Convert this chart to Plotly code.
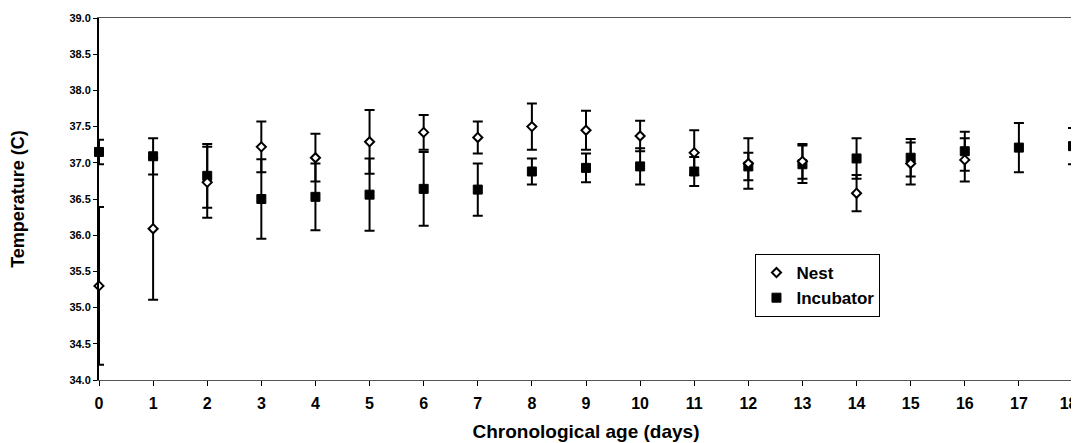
import plotly.graph_objects as go

days_nest = list(range(0, 17))
nest_mean = [35.30, 36.09, 36.73, 37.22, 37.07, 37.29, 37.42, 37.35, 37.50, 37.45, 37.37, 37.14, 36.99, 37.02, 36.58, 36.99, 37.04]
nest_err = [1.09, 0.98, 0.49, 0.35, 0.33, 0.44, 0.24, 0.22, 0.32, 0.27, 0.21, 0.31, 0.35, 0.24, 0.25, 0.29, 0.30]

days_inc = list(range(0, 19))
inc_mean = [37.15, 37.09, 36.82, 36.50, 36.53, 36.56, 36.64, 36.63, 36.88, 36.93, 36.95, 36.88, 36.95, 36.98, 37.06, 37.07, 37.16, 37.21, 37.23]
inc_err = [0.17, 0.25, 0.44, 0.55, 0.46, 0.50, 0.51, 0.36, 0.18, 0.20, 0.25, 0.20, 0.19, 0.26, 0.28, 0.26, 0.27, 0.34, 0.25]

x_ticks = list(range(0, 19))
y_ticks = [34.0 + 0.5 * i for i in range(11)]

# last label padded with non-breaking spaces so it sits at the window edge like the reference
x_ticktext = [str(v) for v in x_ticks]
x_ticktext[-1] = x_ticktext[-1] + "\u00a0\u00a0"

fig = go.Figure()
fig.add_trace(go.Scatter(
    x=days_inc, y=inc_mean, mode="markers", name="Incubator", legendrank=2,
    marker=dict(symbol="square", size=9, color="black", line=dict(color="black", width=1)),
    error_y=dict(type="data", array=inc_err, color="black", thickness=2, width=5),
    cliponaxis=False,
))
fig.add_trace(go.Scatter(
    x=days_nest, y=nest_mean, mode="markers", name="Nest", legendrank=1,
    marker=dict(symbol="diamond", size=7, color="white", line=dict(color="black", width=2)),
    error_y=dict(type="data", array=nest_err, color="black", thickness=2, width=5),
    cliponaxis=False,
))

# the page body has an 8px margin, so margins are reduced by 8 on left/top
fig.update_layout(
    width=1079, height=443,
    margin=dict(l=91, r=14, t=10, b=71, autoexpand=False),
    paper_bgcolor="white", plot_bgcolor="white",
    font=dict(family="Liberation Sans, Arial", color="black"),
    showlegend=True,
    legend=dict(
        x=0.674, y=0.348, xanchor="left", yanchor="top",
        bordercolor="black", borderwidth=1, bgcolor="white",
        font=dict(size=17, weight="bold", family="Liberation Sans, Arial"),
        itemwidth=30, tracegroupgap=0,
    ),
    xaxis=dict(
        range=[0, 18], tickmode="array", tickvals=x_ticks,
        ticktext=x_ticktext,
        showgrid=False, zeroline=False, automargin=False,
        showline=True, linecolor="#555", linewidth=1, mirror=True,
        ticks="outside", ticklen=5, tickcolor="black", tickwidth=1,
        ticklabelstandoff=4,
        tickfont=dict(size=16, weight="bold", family="Liberation Sans, Arial"),
        title=dict(text="Chronological age (days)", font=dict(size=19, weight="bold"), standoff=13),
    ),
    yaxis=dict(
        range=[34, 39], tickmode="array", tickvals=y_ticks,
        ticktext=[f"{v:.1f}" for v in y_ticks],
        showgrid=False, zeroline=False, automargin=False,
        showline=True, linecolor="black", linewidth=2, mirror=True,
        ticks="outside", ticklen=4, tickcolor="black", tickwidth=1,
        tickfont=dict(size=11, weight="bold"),
        title=dict(text="Temperature (C)", font=dict(size=18, weight="bold"), standoff=40),
    ),
)

fig.write_html("out.html")
